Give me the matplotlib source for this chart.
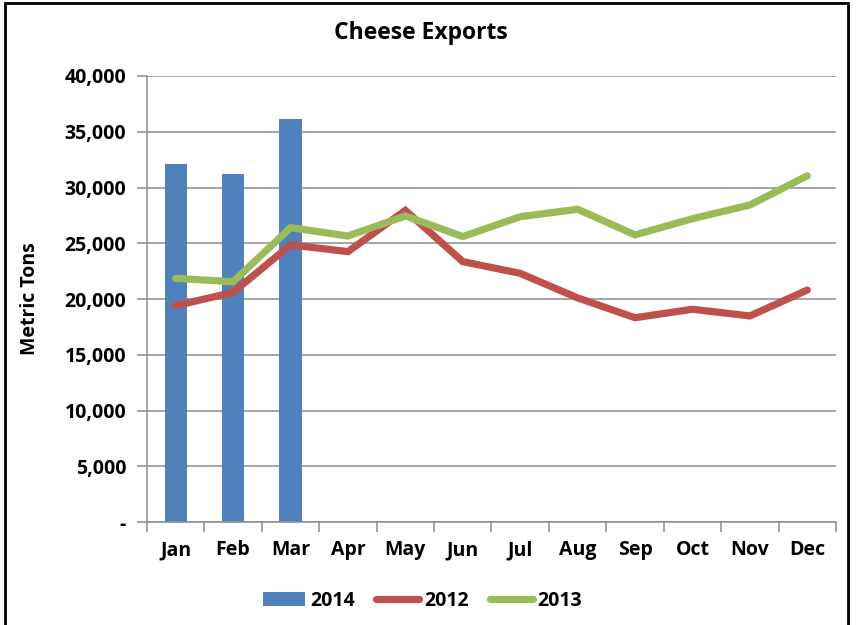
import matplotlib.pyplot as plt
from matplotlib.patches import Rectangle
from matplotlib.ticker import FuncFormatter, MultipleLocator
import numpy as np

plt.rcParams['font.family'] = ['Open Sans', 'DejaVu Sans']

months = ["Jan", "Feb", "Mar", "Apr", "May", "Jun",
          "Jul", "Aug", "Sep", "Oct", "Nov", "Dec"]
exports_2014 = [32100, 31200, 36150]
exports_2012 = [19400, 20600, 24850, 24250, 27950, 23350,
                22300, 20100, 18320, 19080, 18480, 20800]
exports_2013 = [21850, 21550, 26400, 25650, 27450, 25600,
                27380, 28050, 25750, 27200, 28430, 31050]

BLUE = "#4F81BD"
RED = "#C0504D"
GREEN = "#9BBB59"
GRID = "#8C8C8C"

fig = plt.figure(figsize=(8.62, 6.25), dpi=100)
ax = fig.add_axes([147 / 862, 1 - 522 / 625, (836 - 147) / 862, (522 - 76) / 625])

x = np.arange(len(months))
bars = ax.bar(x[:len(exports_2014)], exports_2014, width=0.39, color=BLUE,
              label="2014", zorder=2)
l12, = ax.plot(x, exports_2012, color=RED, lw=5.2, solid_capstyle="round",
               solid_joinstyle="miter", label="2012", zorder=3)
l13, = ax.plot(x, exports_2013, color=GREEN, lw=5.2, solid_capstyle="round",
               solid_joinstyle="miter", label="2013", zorder=4)

ax.set_xlim(-0.5, 11.5)
ax.set_ylim(0, 40000)
ax.yaxis.set_major_locator(MultipleLocator(5000))
ax.yaxis.set_major_formatter(FuncFormatter(lambda v, p: "-" if v == 0 else f"{int(v):,}"))
ax.grid(axis="y", color=GRID, lw=1.1, zorder=0)
ax.set_axisbelow(True)

ax.set_xticks(x)
ax.set_xticklabels(months)
ax.set_xticks(np.arange(-0.5, 12, 1), minor=True)
ax.tick_params(axis="x", which="major", length=0, pad=13, labelsize=14)
ax.tick_params(axis="x", which="minor", length=7, color=GRID, width=1.1)
ax.tick_params(axis="y", length=7, color=GRID, width=1.1, pad=8, labelsize=14)
for lab in ax.get_xticklabels() + ax.get_yticklabels():
    lab.set_fontweight("bold")

for side in ["top", "right"]:
    ax.spines[side].set_visible(False)
for side in ["left", "bottom"]:
    ax.spines[side].set_color(GRID)
    ax.spines[side].set_linewidth(1.1)

ax.set_ylabel("Metric Tons", fontsize=14, fontweight="bold")
ax.yaxis.set_label_coords(-0.156, 0.5)
fig.text(0.488, 1 - 33 / 625, "Cheese Exports", ha="center", va="center",
         fontsize=16.5, fontweight="bold")

fig.legend([bars, l12, l13], ["2014", "2012", "2013"], loc="center",
           bbox_to_anchor=(0.49, 1 - 601 / 625), ncol=3, frameon=False,
           handlelength=2.2, handletextpad=0.25, columnspacing=1.1,
           prop={"weight": "bold", "size": 14})

# outer frame of the chart
fig.patches.append(Rectangle((5 / 862, -0.05), (848 - 5) / 862, 1.05 - 3 / 625,
                             transform=fig.transFigure, fill=False,
                             edgecolor="black", lw=2))

fig.savefig("out.png", dpi=100)
